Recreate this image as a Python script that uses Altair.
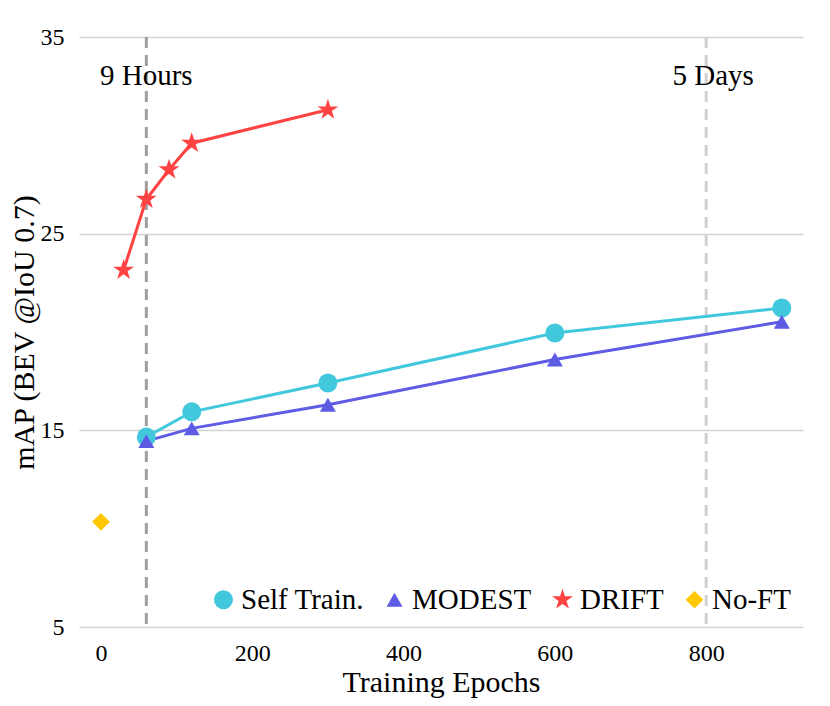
import altair as alt
import pandas as pd

# ---- data ----
series_names = ["Self Train.", "MODEST", "DRIFT", "No-FT"]
self_x = [60, 120, 300, 600, 900]
self_y = [14.66, 15.94, 17.41, 19.95, 21.22]
modest_x = [60, 120, 300, 600, 900]
modest_y = [14.45, 15.10, 16.30, 18.60, 20.52]
drift_x = [30, 60, 90, 120, 300]
drift_y = [23.15, 26.75, 28.25, 29.60, 31.30]
noft_x = [0]
noft_y = [10.35]

vline_x = [60, 800]
vline_label = ["9 Hours", "5 Days"]
vline_label_y = [33, 33]

# ---- styles ----
colors = ["#42C8DD", "#5E5BE5", "#FF4343", "#FFC800"]
star = ("M0,-1L0.2245,-0.309L0.951,-0.309L0.363,0.118L0.588,0.809L0,0.382"
        "L-0.588,0.809L-0.363,0.118L-0.951,-0.309L-0.2245,-0.309Z")
shapes = ["circle", "triangle-up", star, "diamond"]
sizes = [361, 256, 480, 313]
FONT = "Liberation Serif, Times New Roman, serif"

rows = []
for name, xs, ys in [("Self Train.", self_x, self_y), ("MODEST", modest_x, modest_y),
                     ("DRIFT", drift_x, drift_y), ("No-FT", noft_x, noft_y)]:
    for xv, yv in zip(xs, ys):
        rows.append({"series": name, "epoch": xv, "map": yv})
df = pd.DataFrame(rows)
vdf = pd.DataFrame({"x": vline_x, "label": vline_label, "ly": vline_label_y})

xscale = alt.Scale(domain=[-29, 928], nice=False, zero=False)
yscale = alt.Scale(domain=[5, 35], nice=False, zero=False)
cscale = alt.Scale(domain=series_names, range=colors)

xaxis = alt.Axis(values=[0, 200, 400, 600, 800], grid=False, domain=False, ticks=False,
                 labelFontSize=24, labelPadding=14, titleFontSize=30, titlePadding=2,
                 labelColor="black", titleColor="black", titleFontWeight="normal",
                 labelFont=FONT, titleFont=FONT)
yaxis = alt.Axis(values=[5, 15, 25, 35], grid=True, gridColor="#d3d3d3", gridWidth=1.5,
                 domain=False, ticks=False, labelFontSize=24, labelPadding=15,
                 titleFontSize=30, titlePadding=1, labelColor="black",
                 titleColor="black", titleFontWeight="normal",
                 labelFont=FONT, titleFont=FONT)

base_x = alt.X("epoch:Q", scale=xscale, axis=xaxis, title="Training Epochs")
base_y = alt.Y("map:Q", scale=yscale, axis=yaxis, title="mAP (BEV @IoU 0.7)")

rule_9h = alt.Chart(vdf).transform_filter(alt.datum.label == "9 Hours").mark_rule(
    strokeWidth=3, strokeDash=[11, 7], color="#9e9e9e").encode(
    x=alt.X("x:Q", scale=xscale))
rule_5d = alt.Chart(vdf).transform_filter(alt.datum.label == "5 Days").mark_rule(
    strokeWidth=3, strokeDash=[11, 7], color="#d0d0d0").encode(
    x=alt.X("x:Q", scale=xscale))

text_9h = alt.Chart(vdf).transform_filter(alt.datum.label == "9 Hours").mark_text(
    font=FONT, fontSize=29, color="black").encode(
    x=alt.X("x:Q", scale=xscale), y=alt.Y("ly:Q", scale=yscale), text="label:N")
text_5d = alt.Chart(vdf).transform_filter(alt.datum.label == "5 Days").mark_text(
    font=FONT, fontSize=29, color="black", dx=7).encode(
    x=alt.X("x:Q", scale=xscale), y=alt.Y("ly:Q", scale=yscale), text="label:N")

legend = alt.Legend(orient="none", legendX=130, legendY=548, direction="horizontal",
                    columns=4, title=None, labelFont=FONT, labelFontSize=29,
                    labelColor="black", columnPadding=16, labelOffset=3,
                    symbolStrokeWidth=0, symbolOpacity=1, symbolFillColor="black")

lines = alt.Chart(df).transform_filter(alt.datum.series != "No-FT").mark_line(strokeWidth=3).encode(
    x=base_x, y=base_y,
    color=alt.Color("series:N", scale=cscale, sort=series_names, legend=legend),
    detail="series:N",
)

points = alt.Chart(df).mark_point(filled=True, opacity=1, strokeWidth=0).encode(
    x=base_x, y=base_y,
    color=alt.Color("series:N", scale=cscale, sort=series_names, legend=legend),
    shape=alt.Shape("series:N", scale=alt.Scale(domain=series_names, range=shapes),
                    sort=series_names, legend=legend),
    size=alt.Size("series:N", scale=alt.Scale(type="ordinal", domain=series_names, range=sizes),
                  sort=series_names, legend=legend),
)

chart = alt.layer(rule_9h, rule_5d, text_9h, text_5d, lines, points).properties(
    width=724, height=590,
    padding={"left": 71, "top": 29, "right": 19, "bottom": 71},
    autosize=alt.AutoSizeParams(type="none"),
).configure(font=FONT).configure_view(stroke=None)

chart.save("out.html", embed_options={"renderer": "svg", "actions": False})
